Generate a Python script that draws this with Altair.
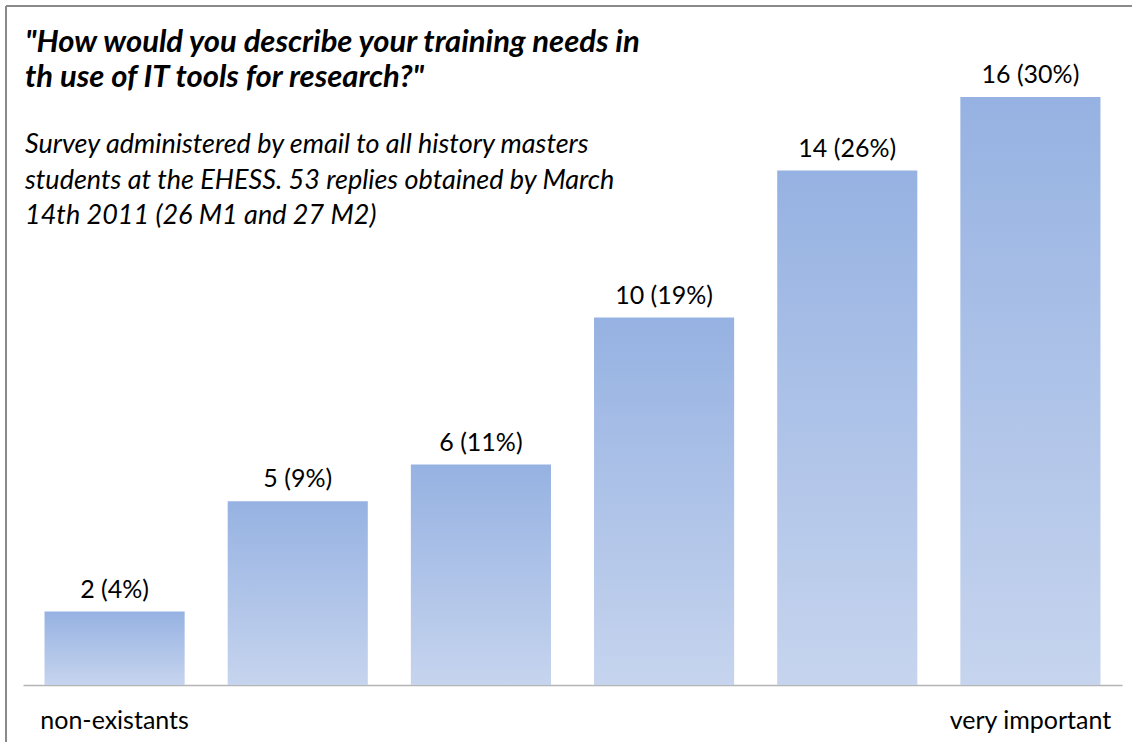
import altair as alt
import pandas as pd

levels = [1, 2, 3, 4, 5, 6]
counts = [2, 5, 6, 10, 14, 16]
percents = [4, 9, 11, 19, 26, 30]
end_labels = ["non-existants", "", "", "", "", "very important"]

title_lines = ['"How would you describe your training needs in', 'th use of IT tools for research?"']
subtitle_lines = [
    "Survey administered by email to all history masters",
    "students at the EHESS. 53 replies obtained by March",
    "14th 2011 (26 M1 and 27 M2)",
]

df = pd.DataFrame({
    "level": levels,
    "count": counts,
    "label": [f"{c} ({p}%)" for c, p in zip(counts, percents)],
})

label_expr = " : ".join(
    f"datum.value == {lv} ? '{lab}'" for lv, lab in zip(levels, end_labels)
) + " : ''"

FONT = "Lato"

x = alt.X(
    "level:O",
    scale=alt.Scale(paddingInner=0.235, paddingOuter=0.1175),
    axis=alt.Axis(
        title=None, ticks=False, domainColor="#b5b5b5", domainWidth=1.5,
        labelAngle=0, labelFontSize=25, labelFont=FONT, labelColor="#000000",
        labelPadding=23, labelExpr=label_expr,
    ),
)
y = alt.Y("count:Q", scale=alt.Scale(domain=[0, 16], nice=False), axis=None)

bars = alt.Chart(df).mark_bar(
    color=alt.Gradient(
        gradient="linear",
        stops=[alt.GradientStop(color="#96b2e2", offset=0),
               alt.GradientStop(color="#c6d4ee", offset=1)],
        x1=0, x2=0, y1=0, y2=1,
    )
).encode(x=x, y=y)

texts = alt.Chart(df).mark_text(
    baseline="bottom", dy=-9, fontSize=25, font=FONT, color="#000000"
).encode(x=x, y=y, text="label:N")

border_top = alt.Chart(df).mark_rule(color="#8a8a8a", strokeWidth=2).encode(
    x=alt.value(-17), x2=alt.value(1120), y=alt.value(-91)
)
border_left = alt.Chart(df).mark_rule(color="#8a8a8a", strokeWidth=2).encode(
    x=alt.value(-17), y=alt.value(-91), y2=alt.value(700)
)

chart = alt.layer(bars, texts, border_top, border_left).properties(
    width=1099,
    height=588,
    autosize=alt.AutoSizeParams(type="none"),
    padding={"left": 23, "top": 97, "right": 10, "bottom": 57},
    title=alt.TitleParams(
        text=title_lines,
        subtitle=subtitle_lines,
        anchor="start",
        frame="group",
        orient="top",
        font=FONT,
        fontSize=31,
        fontWeight="bold",
        fontStyle="italic",
        color="#000000",
        lineHeight=35,
        subtitleFont=FONT,
        subtitleFontSize=27,
        subtitleFontStyle="italic",
        subtitleColor="#000000",
        subtitleLineHeight=35.5,
        subtitlePadding=38,
        dx=2,
        dy=229,
    ),
).configure(background="white").configure_view(stroke=None)

chart.save("out.html", embed_options={"renderer": "svg", "actions": False})
